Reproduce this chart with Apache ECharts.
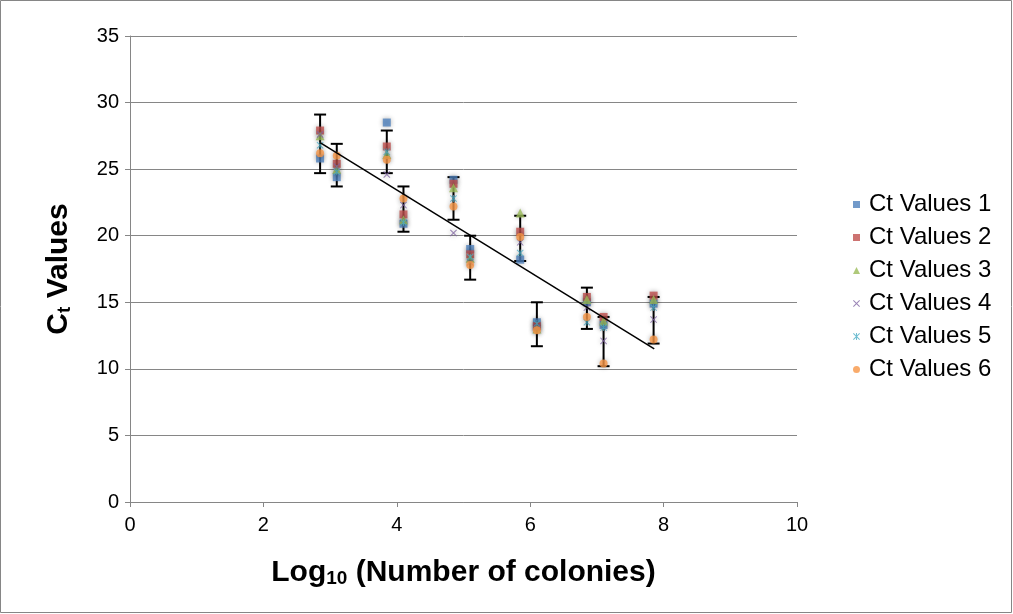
<!DOCTYPE html>
<html>
<head>
<meta charset="utf-8">
<script src="https://cdn.jsdelivr.net/npm/echarts@6/dist/echarts.min.js"></script>
<style>
  html, body { margin: 0; padding: 0; background: #fff; }
  #chart { width: 1013px; height: 614px; }
</style>
</head>
<body>
<div id="chart"></div>
<script>
// Log10 of colony counts for each dilution
const xValues = [2.85, 3.1, 3.85, 4.1, 4.85, 5.1, 5.85, 6.1, 6.85, 7.1, 7.85];

// Ct replicates
const ct1 = [25.8, 24.4, 28.5, 20.9, 24.2, 19.0, 18.2, 13.5, 15.0, 13.3, 14.9];
const ct2 = [27.9, 25.4, 26.7, 21.6, 23.9, 18.6, 20.3, 13.2, 15.4, 13.9, 15.5];
const ct3 = [27.5, 25.0, 26.1, 21.2, 23.6, 18.3, 21.7, 13.0, 15.2, 13.6, 15.2];
const ct4 = [27.6, 25.2, 24.6, 22.3, 20.2, 18.0, 19.5, 13.1, 14.6, 12.1, 13.7];
const ct5 = [26.8, 24.8, 26.3, 21.0, 22.8, 18.4, 18.7, 13.4, 13.5, 13.1, 14.6];
const ct6 = [26.2, 26.0, 25.7, 22.8, 22.2, 17.8, 19.9, 12.9, 13.9, 10.4, 12.2];

// Error bar extents per dilution
const errLow  = [24.7, 23.7, 24.7, 20.3, 21.2, 16.7, 18.1, 11.7, 13.0, 10.2, 11.9];
const errHigh = [29.1, 26.9, 27.9, 23.7, 24.4, 20.0, 21.5, 15.0, 16.1, 13.9, 15.4];

// Linear trend line end points
const trendX = [2.85, 7.86];
const trendY = [27.0, 11.5];

const seriesNames = ['Ct Values 1', 'Ct Values 2', 'Ct Values 3', 'Ct Values 4', 'Ct Values 5', 'Ct Values 6'];
const seriesValues = [ct1, ct2, ct3, ct4, ct5, ct6];
const colors = ['#4F81BD', '#C0504D', '#9BBB59', '#8064A2', '#4BACC6', '#F79646'];
const xMark = 'path://M0,1 L1,0 L5,4 L9,0 L10,1 L6,5 L10,9 L9,10 L5,6 L1,10 L0,9 L4,5 Z';
const starMark = 'path://M0,1 L1,0 L5,4 L9,0 L10,1 L6,5 L10,9 L9,10 L5,6 L1,10 L0,9 L4,5 Z M4.3,0 L5.7,0 L5.7,10 L4.3,10 Z';
const symbols = ['rect', 'rect', 'triangle', xMark, starMark, 'circle'];
const symbolSizes = [8, 8, 9, 7, 7, 8];

const FONT = '"Liberation Sans", Arial, sans-serif';
const GRAY = '#868686';

// Rich styles for titles with a subscript
const titleRich = {
  m: { fontSize: 30, fontWeight: 'bold', color: '#000', fontFamily: FONT, lineHeight: 34, verticalAlign: 'bottom' },
  s: { fontSize: 19, fontWeight: 'bold', color: '#000', fontFamily: FONT, lineHeight: 14, verticalAlign: 'bottom' }
};

const chart = echarts.init(document.getElementById('chart'), null, { renderer: 'canvas' });

const scatterSeries = seriesNames.map((name, i) => ({
  name: name,
  type: 'scatter',
  data: xValues.map((x, j) => [x, seriesValues[i][j]]),
  symbol: symbols[i],
  symbolSize: symbolSizes[i],
  itemStyle: {
    color: colors[i],
    shadowBlur: 5,
    shadowColor: 'rgba(0,0,0,0.4)'
  },
  z: 4
}));

const errorSeries = {
  name: 'error',
  type: 'custom',
  data: xValues.map((x, j) => [x, errLow[j], errHigh[j]]),
  renderItem: function (params, api) {
    const x = api.value(0);
    const lo = api.coord([x, api.value(1)]);
    const hi = api.coord([x, api.value(2)]);
    const half = 6;
    const style = { stroke: '#000', lineWidth: 2 };
    return {
      type: 'group',
      children: [
        { type: 'line', shape: { x1: hi[0], y1: hi[1], x2: lo[0], y2: lo[1] }, style: style },
        { type: 'line', shape: { x1: hi[0] - half, y1: hi[1], x2: hi[0] + half, y2: hi[1] }, style: style },
        { type: 'line', shape: { x1: lo[0] - half, y1: lo[1], x2: lo[0] + half, y2: lo[1] }, style: style }
      ]
    };
  },
  z: 3,
  silent: true
};

const trendSeries = {
  name: 'trend',
  type: 'line',
  data: trendX.map((x, i) => [x, trendY[i]]),
  symbol: 'none',
  lineStyle: { color: '#000', width: 1.5 },
  z: 5,
  silent: true
};

chart.setOption({
  animation: false,
  backgroundColor: '#fff',
  textStyle: { fontFamily: FONT },
  grid: { left: 130, right: 216, top: 36, bottom: 112 },
  legend: {
    data: seriesNames,
    orient: 'vertical',
    left: 848,
    top: 187,
    itemWidth: 7,
    itemHeight: 7,
    itemGap: 8,
    textStyle: { fontSize: 24, lineHeight: 25, color: '#000', fontFamily: FONT, padding: [0, 0, 0, 4] }
  },
  xAxis: {
    type: 'value',
    min: 0,
    max: 10,
    interval: 2,
    name: '{m|Log}{s|10}{m| (Number of colonies)}',
    nameLocation: 'middle',
    nameGap: 52,
    nameTextStyle: { rich: titleRich },
    axisLine: { show: true, lineStyle: { color: GRAY, width: 1 } },
    axisTick: { show: true, inside: false, length: 5, lineStyle: { color: GRAY } },
    axisLabel: { fontSize: 20, color: '#000', fontFamily: FONT, margin: 13 },
    splitLine: { show: false }
  },
  yAxis: {
    type: 'value',
    min: 0,
    max: 35,
    interval: 5,
    name: '{m|C}{s|t}{m| Values}',
    nameLocation: 'middle',
    nameGap: 56,
    nameRotate: 90,
    nameTextStyle: { rich: titleRich },
    axisLine: { show: true, lineStyle: { color: GRAY, width: 1 } },
    axisTick: { show: true, inside: false, length: 5, lineStyle: { color: GRAY } },
    axisLabel: { fontSize: 20, color: '#000', fontFamily: FONT, margin: 11 },
    splitLine: { show: true, lineStyle: { color: GRAY, width: 1 } }
  },
  graphic: [{
    type: 'rect',
    shape: { x: 0.5, y: 0.5, width: 1011, height: 612 },
    style: { fill: 'none', stroke: GRAY, lineWidth: 1 },
    silent: true,
    z: 0
  }],
  series: [errorSeries].concat(scatterSeries).concat([trendSeries])
});
</script>
</body>
</html>
